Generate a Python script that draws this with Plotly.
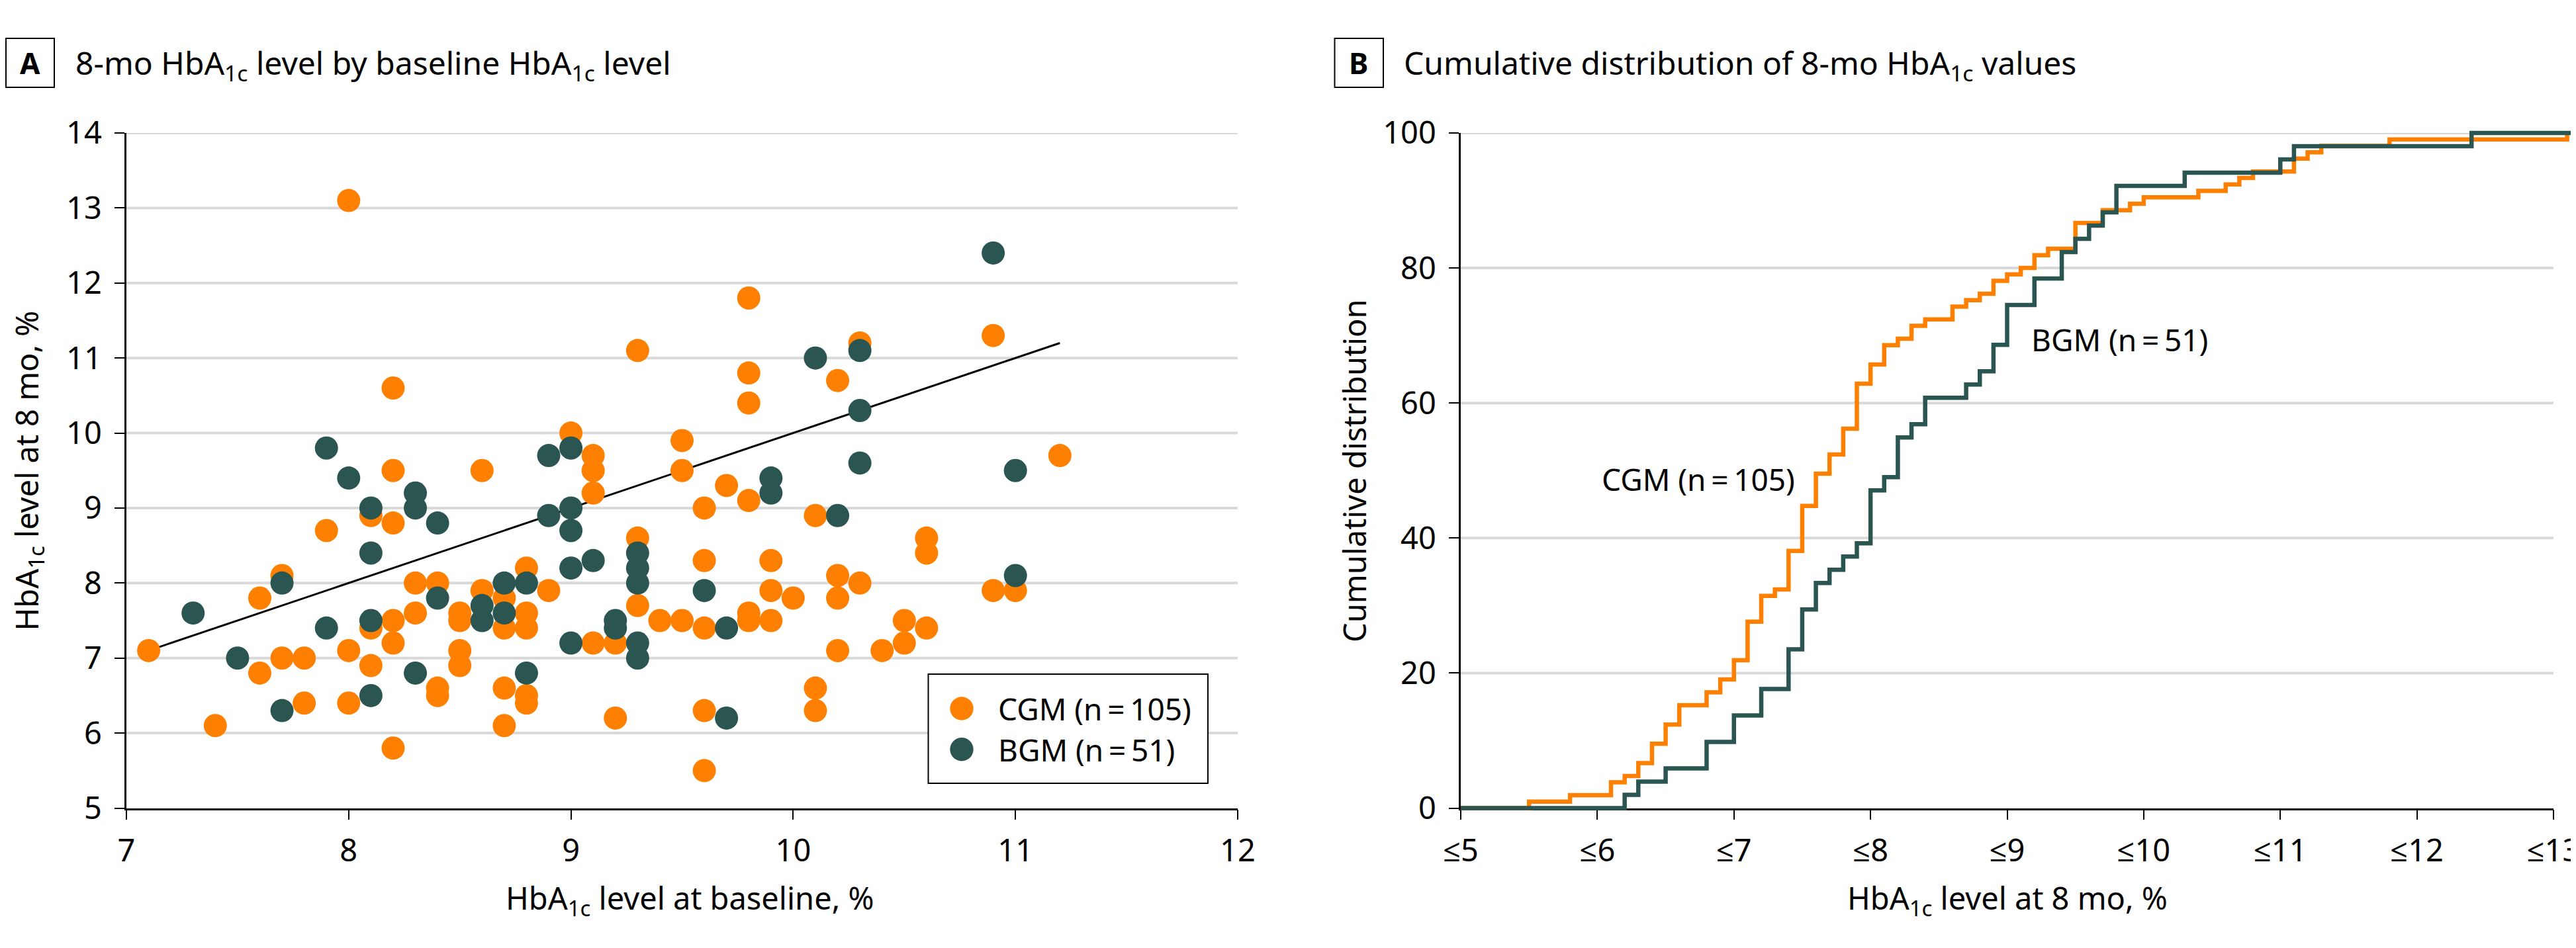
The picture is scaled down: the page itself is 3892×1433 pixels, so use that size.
import plotly.graph_objects as go

# ---------------- data ----------------
# Panel A: 8-mo HbA1c vs baseline HbA1c
cgm_baseline = [7.1, 7.4, 7.6, 7.6, 7.7, 7.7, 7.8, 7.8, 7.9,
                8.0, 8.0, 8.0, 8.1, 8.1, 8.1,
                8.2, 8.2, 8.2, 8.2, 8.2, 8.2, 8.3, 8.3,
                8.4, 8.4, 8.4, 8.5, 8.5, 8.5, 8.5, 8.6, 8.6,
                8.7, 8.7, 8.7, 8.7, 8.8, 8.8, 8.8, 8.8, 8.8, 8.9,
                9.0, 9.1, 9.1, 9.1, 9.1, 9.2, 9.2, 9.3, 9.3, 9.3, 9.4,
                9.5, 9.5, 9.5, 9.6, 9.6, 9.6, 9.6, 9.6, 9.7,
                9.8, 9.8, 9.8, 9.8, 9.8, 9.8, 9.9, 9.9, 9.9, 10.0,
                10.1, 10.1, 10.1, 10.2, 10.2, 10.2, 10.2, 10.3, 10.3, 10.4,
                10.5, 10.5, 10.6, 10.6, 10.6, 10.9, 10.9, 11.0, 11.2]
cgm_8mo = [7.1, 6.1, 7.8, 6.8, 8.1, 7.0, 7.0, 6.4, 8.7,
           13.1, 7.1, 6.4, 8.9, 7.4, 6.9,
           10.6, 9.5, 8.8, 7.5, 7.2, 5.8, 8.0, 7.6,
           8.0, 6.6, 6.5, 7.6, 7.5, 7.1, 6.9, 9.5, 7.9,
           7.8, 7.4, 6.6, 6.1, 8.2, 7.6, 7.4, 6.5, 6.4, 7.9,
           10.0, 9.7, 9.5, 9.2, 7.2, 7.2, 6.2, 11.1, 8.6, 7.7, 7.5,
           9.9, 9.5, 7.5, 9.0, 8.3, 7.4, 6.3, 5.5, 9.3,
           11.8, 10.8, 10.4, 9.1, 7.6, 7.5, 8.3, 7.9, 7.5, 7.8,
           8.9, 6.6, 6.3, 10.7, 8.1, 7.8, 7.1, 11.2, 8.0, 7.1,
           7.5, 7.2, 8.6, 8.4, 7.4, 11.3, 7.9, 7.9, 9.7]

bgm_baseline = [7.3, 7.5, 7.7, 7.7, 7.9, 7.9, 8.0, 8.1, 8.1, 8.1, 8.1,
                8.3, 8.3, 8.3, 8.4, 8.4, 8.6, 8.6, 8.7, 8.7, 8.8, 8.8,
                8.9, 8.9, 9.0, 9.0, 9.0, 9.0, 9.0, 9.1, 9.2, 9.2,
                9.3, 9.3, 9.3, 9.3, 9.3, 9.6, 9.7, 9.7, 9.9, 9.9,
                10.1, 10.2, 10.3, 10.3, 10.3, 10.9, 11.0, 11.0]
bgm_8mo = [7.6, 7.0, 8.0, 6.3, 9.8, 7.4, 9.4, 9.0, 8.4, 7.5, 6.5,
           9.2, 9.0, 6.8, 8.8, 7.8, 7.7, 7.5, 8.0, 7.6, 8.0, 6.8,
           9.7, 8.9, 9.8, 9.0, 8.7, 8.2, 7.2, 8.3, 7.5, 7.4,
           8.4, 8.2, 8.0, 7.2, 7.0, 7.9, 7.4, 6.2, 9.4, 9.2,
           11.0, 8.9, 11.1, 10.3, 9.6, 12.4, 9.5, 8.1]

fit_x = [7.1, 11.2]
fit_y = [7.1, 11.2]

# Panel B: cumulative distribution of 8-mo HbA1c (step positions and cumulative counts)
cgm_n = 105
bgm_n = 51
cgm_cdf_x = [5.0, 5.5, 5.8, 6.1, 6.2, 6.3, 6.4, 6.5, 6.6, 6.8, 6.9, 7.0, 7.1, 7.2, 7.3,
             7.4, 7.5, 7.6, 7.7, 7.8, 7.9, 8.0, 8.1, 8.2, 8.3, 8.4, 8.6, 8.7, 8.8,
             8.9, 9.0, 9.1, 9.2, 9.3, 9.5, 9.7, 9.9, 10.0, 10.4, 10.6, 10.7, 10.8,
             11.1, 11.2, 11.3, 11.8, 13.1]
cgm_cdf_count = [0, 1, 2, 4, 5, 7, 10, 13, 16, 18, 20, 23, 29, 33, 34,
                 40, 47, 52, 55, 59, 66, 69, 72, 73, 75, 76, 78, 79, 80,
                 82, 83, 84, 86, 87, 91, 93, 94, 95, 96, 97, 98, 99,
                 101, 102, 103, 104, 105]
bgm_cdf_x = [5.0, 6.2, 6.3, 6.5, 6.8, 7.0, 7.2, 7.4, 7.5, 7.6, 7.7, 7.8, 7.9, 8.0,
             8.1, 8.2, 8.3, 8.4, 8.7, 8.8, 8.9, 9.0, 9.2, 9.4, 9.5, 9.6, 9.7, 9.8,
             10.3, 11.0, 11.1, 12.4, 13.2]
bgm_cdf_count = [0, 1, 2, 3, 5, 7, 9, 12, 15, 17, 18, 19, 20, 24,
                 25, 28, 29, 31, 32, 33, 35, 38, 40, 42, 43, 44, 45, 47,
                 48, 49, 50, 51, 51]

a_xticks = [7, 8, 9, 10, 11, 12]
a_yticks = [5, 6, 7, 8, 9, 10, 11, 12, 13, 14]
b_xticks = [5, 6, 7, 8, 9, 10, 11, 12, 13]
b_xticklabels = ["≤5", "≤6", "≤7", "≤8", "≤9", "≤10", "≤11", "≤12", "≤13"]
b_yticks = [0, 20, 40, 60, 80, 100]

# ---------------- style / layout ----------------
W, H = 3892, 1433
FONT = "Noto Sans, Open Sans, DejaVu Sans, sans-serif"
ORANGE = "#FF8000"
TEAL = "#2B5551"
GRID = "#D9D9D9"
TICKFONT = 47
TXT = 47

A_L, A_R, A_T, A_B = 183, 1862, 193, 1213.5
B_L, B_R, B_T, B_B = 2199, 3850, 193, 1213.5
B_XMAX_EXT = 13.2
B_YPAD = 1.5


def fx(px):
    return px / W


def fy(py):
    return 1 - py / H


b_xunit = (B_R - B_L) / (b_xticks[-1] - b_xticks[0])
b_yunit = (B_B - B_T) / (b_yticks[-1] - b_yticks[0])
B3_R = B_R + (B_XMAX_EXT - b_xticks[-1]) * b_xunit
B3_T = B_T - B_YPAD * b_yunit
B3_B = B_B + B_YPAD * b_yunit

cgm_pct = [c / cgm_n * 100 for c in cgm_cdf_count]
bgm_pct = [c / bgm_n * 100 for c in bgm_cdf_count]

fig = go.Figure()

# Panel A traces
fig.add_trace(go.Scatter(x=fit_x, y=fit_y, mode="lines", line=dict(color="black", width=3),
                         xaxis="x", yaxis="y", showlegend=False, hoverinfo="skip"))
fig.add_trace(go.Scatter(x=cgm_baseline, y=cgm_8mo, mode="markers", name="CGM",
                         marker=dict(color=ORANGE, size=35, line=dict(width=0)),
                         xaxis="x", yaxis="y", showlegend=False))
fig.add_trace(go.Scatter(x=bgm_baseline, y=bgm_8mo, mode="markers", name="BGM",
                         marker=dict(color=TEAL, size=35, line=dict(width=0)),
                         xaxis="x", yaxis="y", showlegend=False))

# Panel B traces (on extended invisible axes so the thick lines are not clipped)
fig.add_trace(go.Scatter(x=cgm_cdf_x, y=cgm_pct, mode="lines", line=dict(color=ORANGE, width=6.5, shape="hv"),
                         xaxis="x3", yaxis="y3", showlegend=False))
fig.add_trace(go.Scatter(x=bgm_cdf_x, y=bgm_pct, mode="lines", line=dict(color=TEAL, width=6.5, shape="hv"),
                         xaxis="x3", yaxis="y3", showlegend=False))

axis_common = dict(showgrid=False, zeroline=False, showline=True, linecolor="black", linewidth=2.5,
                   ticks="outside", ticklen=15, tickwidth=2.3, tickcolor="black",
                   tickfont=dict(family=FONT, size=TICKFONT, color="black"), automargin=False,
                   fixedrange=True)

shapes = []
for v in a_yticks[1:]:
    shapes.append(dict(type="line", xref="x", yref="y", x0=a_xticks[0], x1=a_xticks[-1], y0=v, y1=v,
                       line=dict(color=GRID, width=4), layer="below"))
for v in b_yticks[1:]:
    shapes.append(dict(type="line", xref="x2", yref="y2", x0=b_xticks[0], x1=b_xticks[-1], y0=v, y1=v,
                       line=dict(color=GRID, width=4), layer="below"))

# legend box for panel A
shapes.append(dict(type="rect", xref="paper", yref="paper", x0=fx(1394.5), x1=fx(1817), y0=fy(1176), y1=fy(1011),
                   line=dict(color="black", width=2), fillcolor="white", layer="above"))
for cy, col in [(1063, ORANGE), (1124.7, TEAL)]:
    shapes.append(dict(type="circle", xref="paper", yref="paper", xsizemode="pixel", ysizemode="pixel",
                       xanchor=fx(1445), yanchor=fy(cy), x0=-17.7, x1=17.7, y0=-17.7, y1=17.7,
                       fillcolor=col, line=dict(width=0), layer="above"))
# panel letter boxes
for x0, x1 in [(1, 74), (2008.5, 2082)]:
    shapes.append(dict(type="rect", xref="paper", yref="paper", x0=fx(x0), x1=fx(x1), y0=fy(124), y1=fy(50),
                       line=dict(color="black", width=2), fillcolor="rgba(0,0,0,0)"))


def ann(text, x, y, xanchor="center", yanchor="middle", size=TXT, angle=0):
    return dict(text=text, x=x, y=y, xref="paper", yref="paper", xanchor=xanchor, yanchor=yanchor,
                showarrow=False, textangle=angle, font=dict(family=FONT, size=size, color="black"))


HB = "HbA<sub>1c</sub>"
thin = "\u2009"
annotations = [
    ann("<b>A</b>", fx(37.5), fy(87), size=44),
    ann(f"8-mo {HB} level by baseline {HB} level", fx(103.6), fy(89), xanchor="left", size=48),
    ann("<b>B</b>", fx(2045), fy(87), size=44),
    ann(f"Cumulative distribution of 8-mo {HB} values", fx(2110.5), fy(89), xanchor="left", size=48),
    ann(f"{HB} level at 8 mo, %", fx(34), fy(703.5), angle=-90),
    ann("Cumulative distribution", fx(2038), fy(704), angle=-90),
    ann(f"{HB} level at baseline, %", fx(1034), fy(1352)),
    ann(f"{HB} level at 8 mo, %", fx(3024.5), fy(1352)),
    ann(f"CGM (n{thin}={thin}105)", fx(1498), fy(1063), xanchor="left", size=46),
    ann(f"BGM (n{thin}={thin}51)", fx(1498), fy(1124.7), xanchor="left", size=46),
    ann(f"CGM (n{thin}={thin}105)", fx(2706), fy(716), xanchor="right", size=46),
    ann(f"BGM (n{thin}={thin}51)", fx(3059), fy(505), xanchor="left", size=46),
]

fig.update_layout(
    width=W, height=H,
    margin=dict(l=0, r=0, t=0, b=0, pad=0),
    paper_bgcolor="white", plot_bgcolor="rgba(0,0,0,0)",
    font=dict(family=FONT, color="black"),
    showlegend=False,
    xaxis=dict(domain=[fx(A_L), fx(A_R)], range=[a_xticks[0], a_xticks[-1]], tickvals=a_xticks,
               anchor="y", ticklabelstandoff=6, **axis_common),
    yaxis=dict(domain=[fy(A_B), fy(A_T)], range=[a_yticks[0], a_yticks[-1]], tickvals=a_yticks,
               anchor="x", ticklabelstandoff=10, **axis_common),
    xaxis2=dict(domain=[fx(B_L), fx(B_R)], range=[b_xticks[0], b_xticks[-1]], tickvals=b_xticks,
                ticktext=b_xticklabels, anchor="y2", layer="below traces", ticklabelstandoff=6, **axis_common),
    yaxis2=dict(domain=[fy(B_B), fy(B_T)], range=[b_yticks[0], b_yticks[-1]], tickvals=b_yticks,
                anchor="x2", layer="below traces", ticklabelstandoff=10, **axis_common),
    xaxis3=dict(domain=[fx(B_L), fx(B3_R)], range=[b_xticks[0], B_XMAX_EXT], visible=False,
                anchor="y3", fixedrange=True),
    yaxis3=dict(domain=[fy(B3_B), fy(B3_T)], range=[b_yticks[0] - B_YPAD, b_yticks[-1] + B_YPAD],
                visible=False, anchor="x3", fixedrange=True),
    shapes=shapes,
    annotations=annotations,
)

fig.write_html("out.html")
